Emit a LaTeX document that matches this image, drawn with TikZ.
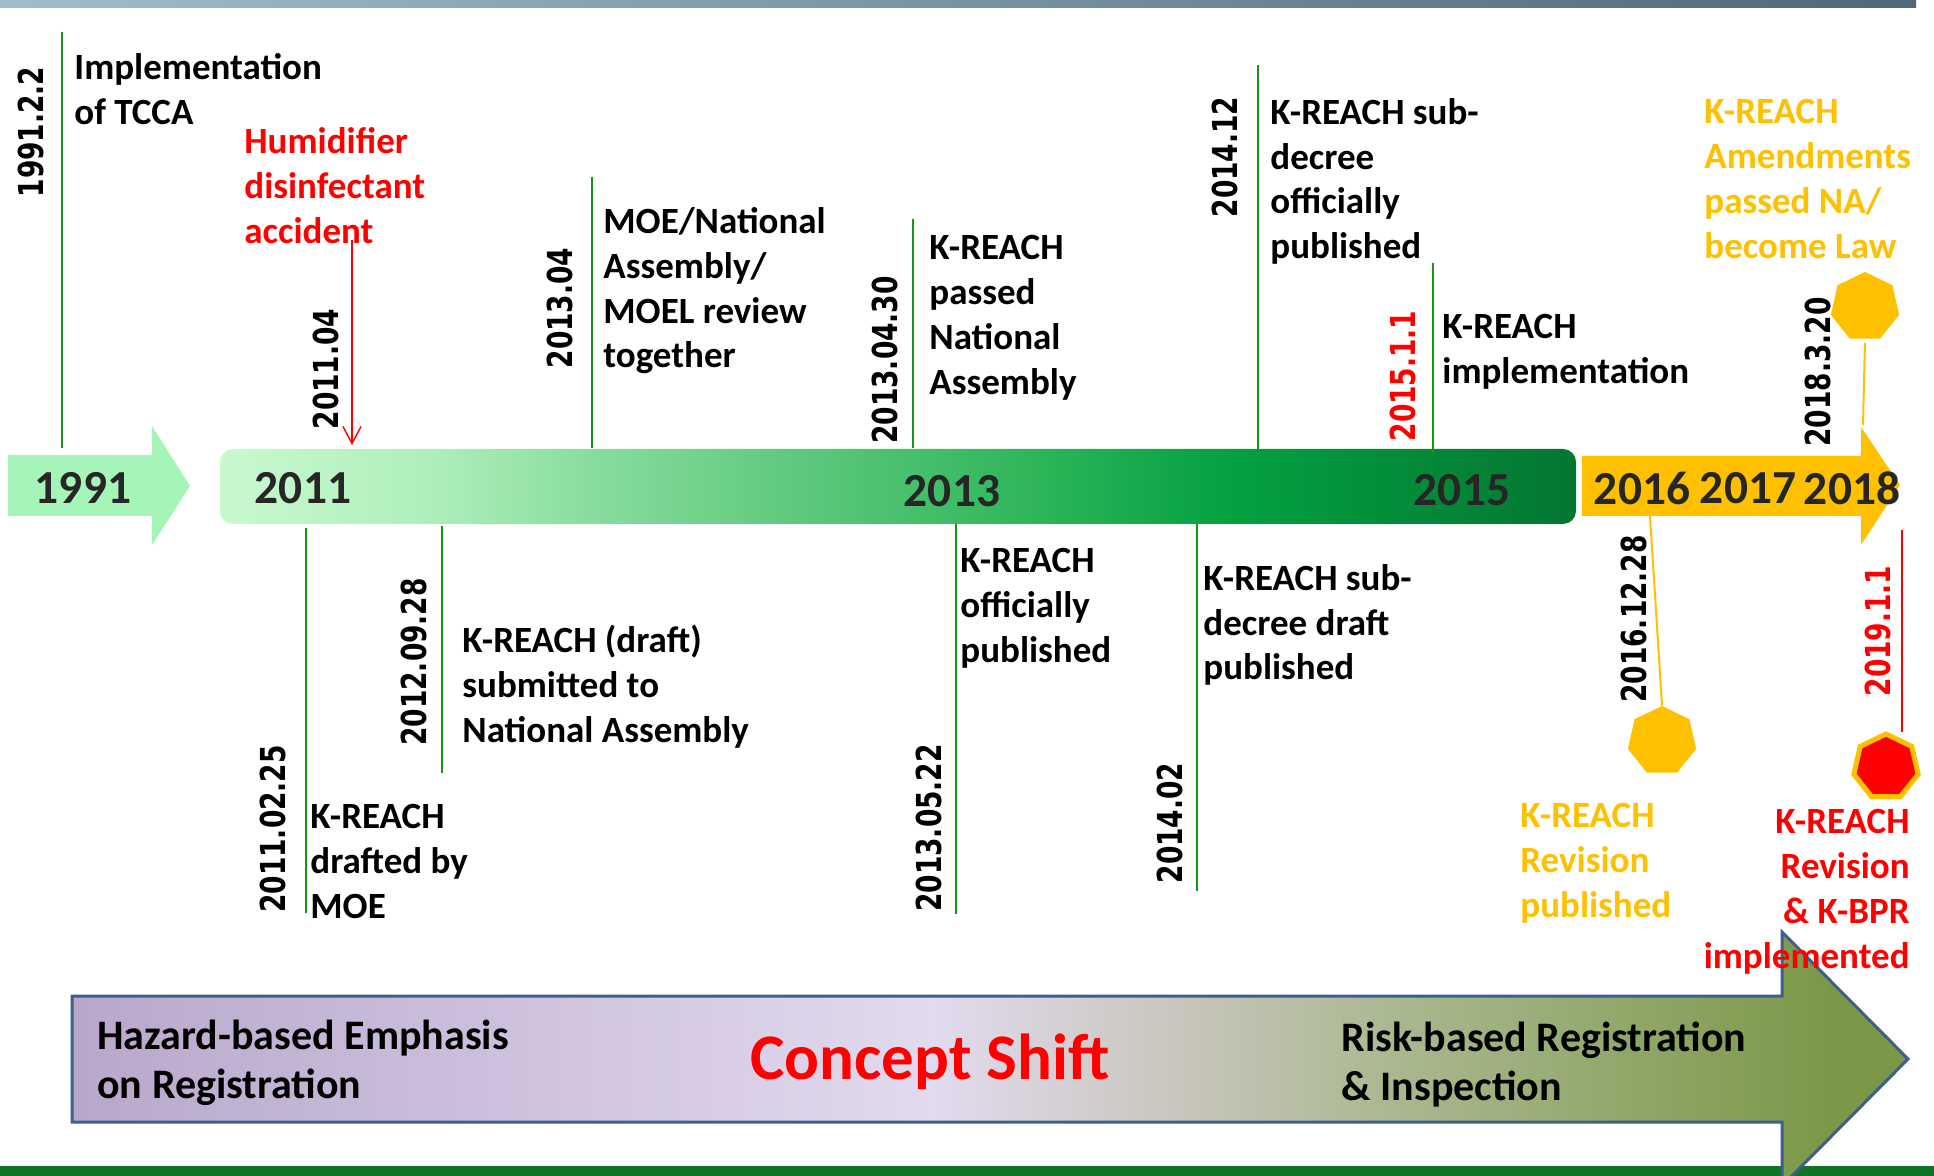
\documentclass[tikz,border=0pt]{standalone}
\usepackage{fontspec}
\setmainfont{Carlito}
\newfontfamily\datefont{DejaVu Sans}[FakeStretch=0.77]
\usetikzlibrary{shapes.geometric,arrows.meta}

\definecolor{evgreen}{RGB}{20,150,20}
\definecolor{kyellow}{RGB}{255,192,0}
\definecolor{kred}{RGB}{255,0,0}
\definecolor{yeargray}{RGB}{38,38,38}
\definecolor{arrowblue}{RGB}{61,95,139}
\definecolor{bargreen}{RGB}{15,117,34}
\definecolor{mint}{RGB}{166,245,184}
\definecolor{topA}{RGB}{160,190,201}
\definecolor{topB}{RGB}{80,104,120}
\definecolor{gbA}{RGB}{200,249,206}
\definecolor{gbB}{RGB}{176,239,189}
\definecolor{gbC}{RGB}{134,220,156}
\definecolor{gbD}{RGB}{93,200,124}
\definecolor{gbE}{RGB}{46,181,90}
\definecolor{gbF}{RGB}{3,160,64}
\definecolor{gbG}{RGB}{4,118,50}
\definecolor{csA}{RGB}{185,167,203}
\definecolor{csB}{RGB}{226,218,238}
\definecolor{csC}{RGB}{201,198,189}
\definecolor{csD}{RGB}{170,184,144}
\definecolor{csE}{RGB}{122,152,72}

\pgfdeclarehorizontalshading{greenbar}{100bp}{color(0bp)=(gbA); color(25bp)=(gbA);
  color(32.5bp)=(gbB); color(39bp)=(gbC); color(46.5bp)=(gbD); color(55bp)=(gbE);
  color(62.5bp)=(gbF); color(75bp)=(gbG); color(100bp)=(gbG)}
\pgfdeclarehorizontalshading{concept}{100bp}{color(0bp)=(csA); color(25bp)=(csA);
  color(48.5bp)=(csB); color(55bp)=(csC); color(61bp)=(csD); color(73bp)=(csE);
  color(100bp)=(csE)}

\tikzset{
  evline/.style={evgreen, line width=1pt},
  datelbl/.style={rotate=90, inner sep=0, font=\datefont\bfseries\fontsize{17.2}{20}\selectfont},
  evtext/.style={anchor=north west, align=left, inner sep=0, font=\bfseries\fontsize{18.5}{22.4}\selectfont},
  yearlbl/.style={inner sep=0, text=yeargray, font=\bfseries\fontsize{23.7}{28}\selectfont},
  sidetext/.style={anchor=north west, align=left, inner sep=0, font=\bfseries\fontsize{21}{24.5}\selectfont},
  hepta/.style={regular polygon, regular polygon sides=7, inner sep=0, minimum size=35pt, fill=kyellow}
}

\begin{document}
\begin{tikzpicture}[x=0.5pt, y=-0.5pt]
\useasboundingbox (0,0) rectangle (1934,1176);
\shade[left color=topA, right color=topB] (0,0) rectangle (1916,8);

\fill[bargreen] (0,1166) rectangle (1934,1176);
\shadedraw[shading=concept, draw=arrowblue, line width=1.5pt] (72,996) -- (1782,996) -- (1782,932) -- (1908,1059) -- (1782,1186) -- (1782,1122) -- (72,1122) -- cycle;
\node[sidetext] (hazard) at (97,1020) {Hazard-based Emphasis\\on Registration};
\node[anchor=base, inner sep=0, text=kred, font=\bfseries\fontsize{32.5}{38}\selectfont] (shift) at (930,1079) {Concept Shift};
\node[sidetext] (risk) at (1341,1022) {Risk-based Registration\\\& Inspection};

\fill[mint] (8,455) -- (152,455) -- (152,426) -- (190,486) -- (152,545) -- (152,516) -- (8,516) -- cycle;
\shade[shading=greenbar, rounded corners=6.5pt] (220,449) rectangle (1576,524);
\fill[kyellow] (1582,456) -- (1861,456) -- (1861,427) -- (1900,485) -- (1861,545) -- (1861,516) -- (1582,516) -- cycle;
\node[yearlbl] (y1991) at (83,488) {1991};
\node[yearlbl] (y2011) at (303,488) {2011};
\node[yearlbl] (y2013) at (952,491) {2013};
\node[yearlbl] (y2015) at (1462,490) {2015};
\node[yearlbl] (y2016) at (1642,488) {2016};
\node[yearlbl] (y2017) at (1748,488) {2017};
\node[yearlbl] (y2018) at (1852,488) {2018};

\coordinate (tccaT) at (62,32);      \coordinate (tccaB) at (62,448);
\coordinate (humT) at (352,240);     \coordinate (humB) at (352,445);
\coordinate (moeT) at (592,177);     \coordinate (moeB) at (592,448);
\coordinate (passT) at (913,219);    \coordinate (passB) at (913,448);
\coordinate (subT) at (1258,65);     \coordinate (subB) at (1258,452);
\coordinate (implT) at (1433,263);   \coordinate (implB) at (1433,455);
\coordinate (amendB) at (1863,425);
\coordinate (draftT) at (306,528);   \coordinate (draftB) at (306,913);
\coordinate (submT) at (442,526);    \coordinate (submB) at (442,773);
\coordinate (offT) at (956,524);     \coordinate (offB) at (956,914);
\coordinate (sdT) at (1197,524);     \coordinate (sdB) at (1197,891);
\coordinate (revT) at (1650,516);
\coordinate (bprT) at (1902,530);    \coordinate (bprB) at (1902,732);

\draw[evline] (tccaT) -- (tccaB);
\draw[kred, line width=0.7pt, -{Straight Barb[length=8.5pt, width=9pt]}] (humT) -- (humB);
\draw[evline] (moeT) -- (moeB);
\draw[evline] (passT) -- (passB);
\draw[evline] (subT) -- (subB);
\draw[evline] (implT) -- (implB);
\draw[evline] (draftT) -- (draftB);
\draw[evline] (submT) -- (submB);
\draw[evline] (offT) -- (offB);
\draw[evline] (sdT) -- (sdB);
\draw[kred, line width=0.9pt] (bprT) -- (bprB);

\node[hepta] (amendH) at (1865,307) {};
\node[hepta] (revH) at (1662,741) {};
\node[hepta, fill=kred, draw=kyellow, line width=2.5pt, minimum size=33pt] (bprH) at (1886,767) {};
\draw[kyellow, line width=1pt, shorten <=2pt] (amendH.south) -- (amendB);
\draw[kyellow, line width=1pt] (revT) -- (revH.north);

\node[datelbl] (d1) at (31,132) {1991.2.2};
\node[datelbl] (d2) at (326,369) {2011.04};
\node[datelbl] (d3) at (560,308) {2013.04};
\node[datelbl] (d4) at (885,360) {2013.04.30};
\node[datelbl] (d5) at (1225,157) {2014.12};
\node[datelbl, text=kred] (d6) at (1403,376) {2015.1.1};
\node[datelbl] (d7) at (1818,372) {2018.3.20};
\node[datelbl] (d8) at (273,829) {2011.02.25};
\node[datelbl] (d9) at (414,662) {2012.09.28};
\node[datelbl] (d10) at (929,828) {2013.05.22};
\node[datelbl] (d11) at (1170,823) {2014.02};
\node[datelbl] (d12) at (1634,619) {2016.12.28};
\node[datelbl, text=kred] (d13) at (1878,631) {2019.1.1};

\node[evtext] (tcca) at (74,53) {Implementation\\of TCCA};
\node[evtext, text=kred] (humid) at (244,127) {Humidifier\\disinfectant\\accident};
\node[evtext] (moe) at (603,207) {MOE/National\\Assembly/\\MOEL review\\together};
\node[evtext] (pass) at (929,235) {K-REACH\\passed\\National\\Assembly};
\node[evtext] (sub) at (1270,98) {K-REACH sub-\\decree\\officially\\published};
\node[evtext] (impl) at (1442,314) {K-REACH\\implementation};
\node[evtext, text=kyellow] (amend) at (1704,99) {K-REACH\\Amendments\\passed NA/\\become Law};
\node[evtext] (draft) at (310,804) {K-REACH\\drafted by\\MOE};
\node[evtext] (subm) at (462,625) {K-REACH (draft)\\submitted to\\National Assembly};
\node[evtext] (off) at (960,548) {K-REACH\\officially\\published};
\node[evtext] (sd) at (1203,564) {K-REACH sub-\\decree draft\\published};
\node[evtext, text=kyellow] (rev) at (1520,803) {K-REACH\\Revision\\published};
\node[evtext, text=kred, anchor=north east, align=right] (bpr) at (1910,809) {K-REACH\\Revision\\\& K-BPR\\implemented};
\end{tikzpicture}
\end{document}
